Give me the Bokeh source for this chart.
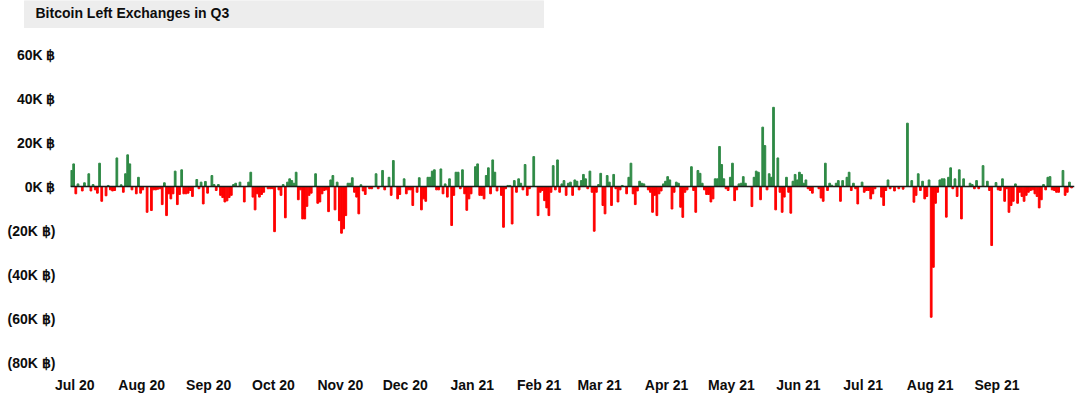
import pandas as pd
from bokeh.plotting import figure
from bokeh.layouts import column
from bokeh.models import (ColumnDataSource, FixedTicker, CustomJSTickFormatter,
                          DatetimeTickFormatter, Span, Label, Range1d)
from bokeh.embed import file_html
from bokeh.resources import INLINE

# Daily net flow of bitcoin out of exchanges (thousands of BTC)
start_date = "2020-07-01"

q3_2020 = [7.3, 10.3, -3.3, 1.2, 0, -2, 1.7, 0, 5.8, -2, 0.9, -1.5, -3, 10.6, -6.7, 0,
           -4.2, 0.5, -1.5, -2, -1.8, 13, 0, 0.8, -2.6, 5.8, 14.4, 10.3, -1.5, 0, -3.3,
           4.2, -3, -1.5, 0, -11.7, 0, -10.9, -1.5, -1.5, -1.2, -1.0, -8.2, 1.7, -13.2,
           -3.3, -5.6, -3.3, 7, -8.2, -3.6, 7.6, -3.3, -3.3, -3, -1.8, -4.5, 0, 3.2, -1,
           2, -7.9, 2.3, -3, 0, 5, 0.9, -1.8, 0.9, -4, -5, -7, -6.5, -5, -4, 0.9, 1.5,
           0, 2, 0, -7, 0, 2, 6.5, -4.8, -10.6, -3.3, -4.8, -3.6, -2.6, 0, -1]

q4_2020 = [-1, -1, -20.5, 0, -1.5, -4, 0.9, -14.2, 2, 3.5, 2.7, 1.5, 6.5, -6, -1.5,
           -14.7, -14.7, -9, -4, -3, 0, 5.8, -7.6, -7, -3.3, -1.8, -1.5, -11.4, 3, 5,
           -10.6, 2, -15.5, -21.2, -19.2, -13.2, 1.5, 1.5, 4, -2.6, -4.8, -12.4, 0.8, -2,
           -3.6, 0, -1, -1, 0, 5.8, -1, 0, 7.3, -1.5, 0, 4.2, -4, 11.8, 0, -5.6, -3.6, 0,
           3.5, -3.3, -1.5, -1.5, -8.6, 0, -2.6, 4, -10.6, -5.6, -6.7, 4.2, 4.2, 7, 7.6,
           -1.5, -1.5, 8, -3.3, 1.2, -4.8, 3.5, -17.7, -4, 6.5, 6.5, -1, 7.6, -3.3, -10.8]

q1_2021 = [-5.6, -3.3, 0, 9, 10.3, -4, -4, -5.6, 5, 8.5, -3.3, 12.1, 6.5, -2, 0, -4,
           -18.5, -1, 0.5, 0.5, -17, 2.7, -2.6, 3.5, 1.5, -1.5, 10, -4, -1, 0, 13.6, 0,
           -13.2, -2.6, -1.8, -6.4, -9.7, -13.2, -2.6, 9.5, -1.5, 12.1, -2.6, 1.2, 2.7, -4,
           1.5, 2, -4, 3, 2.4, -1.5, 2.7, 5.5, 3.5, -1, 7, -2.6, -20.3, -2.6, 0.9, 6, -8.6,
           -12.4, 5, 2, -8.6, 5.5, -1, -7, -1.5, 0.5, 0, -3.3, 4.2, 10.6, -3.3, -8.2, -2,
           2.4, 1.5, 1.2, 0, -1.5, -2.6, -11.7, -4, -13.2, -3.3, -2]

q2_2021 = [1.2, 2.4, 4.5, 3, -10.2, -2.6, 2, 1.5, -9.4, -14, -2.6, -1.5, 0, 9, -1.8,
           -11.7, 7.3, 6, 1.5, -1.5, -3.6, -3.6, -7, -5.6, 3.5, 3.5, 18.2, 10, 3.5, -1,
           -1.8, 4.2, 10.6, -6.4, -1.5, 1.2, 1.5, 4.5, 1.5, 0, 0, -9.1, 4.2, 7, 6.5, -6,
           27, 18.6, -1.5, 5.8, 4.2, 36, -10.6, 13, -2.6, -11.7, -4.8, 4.2, -2.6, -12.1,
           2.4, 5.5, 3, 6.5, 5.5, 1.5, 3, -1, -1.8, -3, 0, 0, -1, -5.2, -6.7, 10.6, -1.8,
           1.5, 0.6, 0, 1.5, 2.7, -6.7, 2.7, 0, 4.2, 6.5, -1.8, 1.5, -1, -7.9]

q3_2021 = [0, 2, -2.6, -1.8, -1.8, -5.6, -3.3, -1, 0, 0, -4.8, -8.6, -1.8, 3, -1, 0,
           -2, 0, -1, 0, -1.2, 0, 28.8, 0, 2.7, -7.1, -4, 5.8, -1.8, 2.4, -5.6, -4.5, 3,
           -59.4, -36.7, -7.6, -2.6, 3, 3.5, 3.5, -13.9, 4.2, 8.5, -1, 3.5, -4.5, 7.6,
           -14.7, 3.5, 0, 0, 1.5, 0.9, -1, 2.7, -1, 0, 9.5, 0, 2.4, -1.8, -26.8, 0, 1.8,
           -1.5, -1.8, 3.5, -6.7, -1, -11.7, -8.6, -6.7, 1.2, -7.6, -2.6, -4.5, -6.7, -4,
           -2.6, -1.8, -1.5, -3.3, -4.5, -9.7, -6, 0.9, -1.5, 4.2, 4.5, -1.5, -1.8, -2.6]

oct_2021 = [-2.6, 0, 7.3, -4, -2.6, 2, -0.6]

y_ticks = [-80, -60, -40, -20, 0, 20, 40, 60]
title_text = "Bitcoin Left Exchanges in Q3"

GREEN = "#2f8a46"
RED = "#ff0000"
TEXT = "#0d0d0d"
FONT = "Liberation Sans"

values = q3_2020 + q4_2020 + q1_2021 + q2_2021 + q3_2021 + oct_2021
dates = pd.date_range(start_date, periods=len(values), freq="D")
colors = [GREEN if v >= 0 else RED for v in values]
source = ColumnDataSource(data=dict(date=dates, value=values, color=colors))

DAY_MS = 24 * 3600 * 1000
t0 = pd.Timestamp(start_date)
x_start = t0 - pd.Timedelta(hours=11)
x_end = x_start + pd.Timedelta(days=464.8)

# ---- header band with title ----
header = figure(width=1080, height=28, x_range=Range1d(0, 1080), y_range=Range1d(0, 28),
                output_backend="svg", toolbar_location=None, min_border=0)
header.frame_align = False
header.axis.visible = False
header.grid.visible = False
header.outline_line_color = None
header.background_fill_color = "white"
header.border_fill_color = "white"
header.quad(left=[24], right=[543], bottom=[0], top=[28], color="#ededed")
header.add_layout(Label(x=35, y=15.5, text=title_text, text_font=FONT,
                        text_font_style="bold", text_font_size="14px",
                        text_color=TEXT, text_align="left", text_baseline="middle"))

# ---- main chart ----
p = figure(width=1080, height=371, x_axis_type="datetime",
           x_range=Range1d(x_start, x_end), y_range=Range1d(-84.5, 65),
           output_backend="svg", toolbar_location=None,
           min_border_left=70, min_border_right=6, min_border_top=15,
           min_border_bottom=27)
p.frame_align = False

p.vbar(x="date", top="value", bottom=0, width=0.8 * DAY_MS, color="color",
       source=source)

p.add_layout(Span(location=0, dimension="width", line_color="#1a1a1a",
                  line_width=1.5))

p.xgrid.visible = False
p.ygrid.visible = False
p.outline_line_color = None
for ax in (p.xaxis, p.yaxis):
    ax.axis_line_color = None
    ax.major_tick_line_color = None
    ax.minor_tick_line_color = None
    ax.major_tick_out = 0
    ax.major_tick_in = 0
    ax.minor_tick_out = 0
    ax.major_label_text_font = FONT
    ax.major_label_text_font_style = "bold"
    ax.major_label_text_font_size = "14px"
    ax.major_label_text_color = TEXT

month_starts = pd.date_range("2020-07-01", "2021-09-01", freq="MS")
p.xaxis.ticker = FixedTicker(
    ticks=[(d + pd.Timedelta(days=1.5)).timestamp() * 1000 for d in month_starts])
p.xaxis.formatter = DatetimeTickFormatter(days="%b %y", months="%b %y",
                                          years="%b %y")
p.xaxis.major_label_standoff = 4

p.yaxis.ticker = FixedTicker(ticks=y_ticks)
p.yaxis.formatter = CustomJSTickFormatter(code="""
    return tick < 0 ? "(" + Math.abs(tick) + "K \u0e3f)" : tick + "K \u0e3f";
""")
p.yaxis.major_label_standoff = 15

open("out.html", "w").write(file_html(column(header, p, spacing=0), INLINE))
